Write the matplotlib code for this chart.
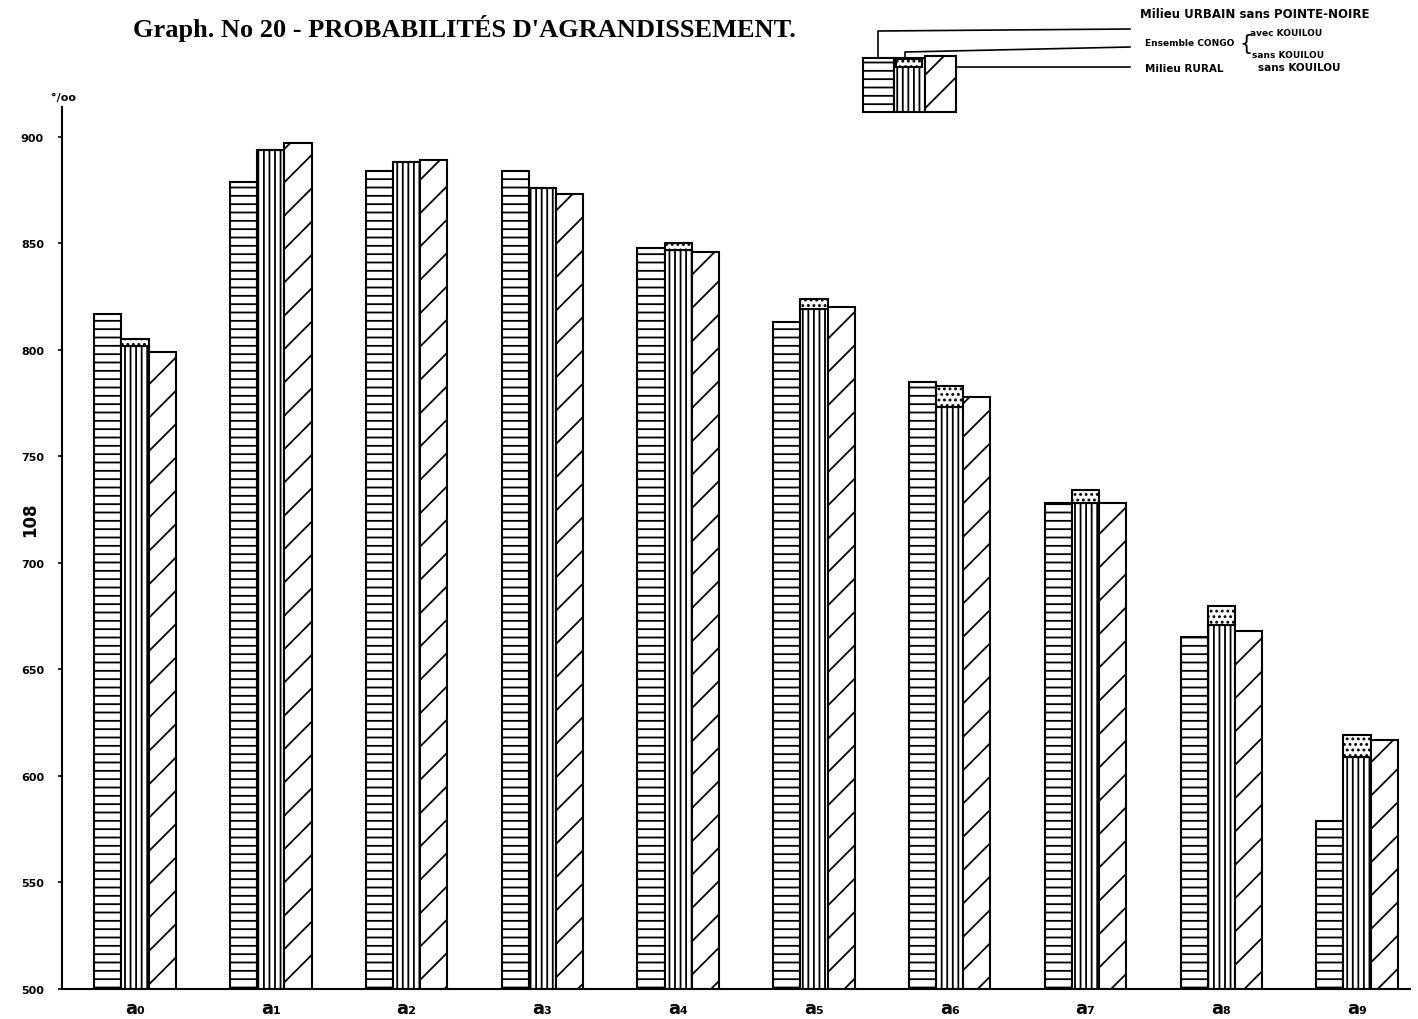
import matplotlib.pyplot as plt
import numpy as np
from matplotlib.patches import Rectangle

plt.rcParams['hatch.linewidth'] = 1.3

# données (pour mille)
groupes = ['a₀', 'a₁', 'a₂', 'a₃', 'a₄', 'a₅', 'a₆', 'a₇', 'a₈', 'a₉']
urbain = [817, 879, 884, 884, 848, 813, 785, 728, 665, 579]
congo_avec = [805, 894, 888, 876, 850, 824, 783, 734, 680, 619]
congo_sans = [802, 894, 888, 876, 847, 819, 773, 728, 671, 609]
rural = [799, 897, 889, 873, 846, 820, 778, 728, 668, 617]
yticks = [500, 550, 600, 650, 700, 750, 800, 850, 900]

fig = plt.figure(figsize=(14.18, 10.2), dpi=100)
ax = fig.add_axes([62/1418, 1 - 990/1020, (1410-62)/1418, (990-108)/1020])

x = np.arange(len(groupes))
w = 0.2
base = 500
kw = dict(color='white', edgecolor='black', linewidth=1.5)
ax.bar(x - w, np.array(urbain) - base, w, bottom=base, hatch='--', **kw)
ax.bar(x, np.array(congo_sans) - base, w, bottom=base, hatch='|||', **kw)
ax.bar(x, np.array(congo_avec) - np.array(congo_sans), w, bottom=congo_sans, hatch='...', **kw)
ax.bar(x + w, np.array(rural) - base, w, bottom=base, hatch='/', **kw)

ax.set_xlim(-0.538, 9.39)
ax.set_ylim(500, 914)
ax.set_yticks(yticks)
ax.set_yticklabels([str(v) for v in yticks], fontsize=8, fontweight='bold')
ax.tick_params(axis='y', length=3, width=1.2, pad=10)
ax.set_xticks(x)
ax.set_xticklabels(groupes, fontsize=13, fontweight='bold')
ax.tick_params(axis='x', length=0, pad=7)
ax.spines[['top', 'right']].set_visible(False)
ax.spines[['left', 'bottom']].set_linewidth(1.5)

fig.text(64/1418, 1 - 98/1020, '°/oo', fontsize=8, fontweight='bold', ha='center', va='center')
fig.text(30/1418, 1 - 520/1020, '108', fontsize=12, fontweight='bold', rotation=90, ha='center', va='center')
fig.text(133/1418, 1 - 28/1020, "Graph. No 20 - PROBABILITÉS D'AGRANDISSEMENT.",
         fontsize=19, fontweight='bold', family='Liberation Serif', ha='left', va='center')

# légende dessinée à la main
lg = fig.add_axes([0, 0, 1, 1])
lg.set_xlim(0, 1418)
lg.set_ylim(1020, 0)
lg.axis('off')
lk = dict(facecolor='white', edgecolor='black', linewidth=1.5)
lg.add_patch(Rectangle((863, 59), 31, 54, hatch='--', **lk))
lg.add_patch(Rectangle((894, 59), 31, 54, hatch='|||', **lk))
lg.add_patch(Rectangle((896, 60), 26, 8, hatch='...', **lk))
lg.add_patch(Rectangle((925, 57), 31, 56, hatch='/', **lk))
lg.plot([878, 878, 1130], [59, 32, 30], color='black', lw=1.2)
lg.plot([905, 905, 1130], [60, 53, 48], color='black', lw=1.2)
lg.plot([956, 1130], [68, 68], color='black', lw=1.2)
tk = dict(fontsize=8.5, fontweight='bold', va='center', ha='left')
lg.text(1140, 15, 'Milieu URBAIN sans POINTE-NOIRE', **tk)
lg.text(1145, 44, 'Ensemble CONGO', fontsize=6.5, fontweight='bold', va='center', ha='left')
lg.text(1239, 44, '{', fontsize=15, va='center', ha='left')
lg.text(1250, 33, 'avec KOUILOU', fontsize=6.5, fontweight='bold', va='center', ha='left')
lg.text(1252, 55, 'sans KOUILOU', fontsize=6.5, fontweight='bold', va='center', ha='left')
lg.text(1145, 69, 'Milieu RURAL', fontsize=7.5, fontweight='bold', va='center', ha='left')
lg.text(1258, 68, 'sans KOUILOU', fontsize=7.5, fontweight='bold', va='center', ha='left')

fig.savefig('out.png', dpi=100)
